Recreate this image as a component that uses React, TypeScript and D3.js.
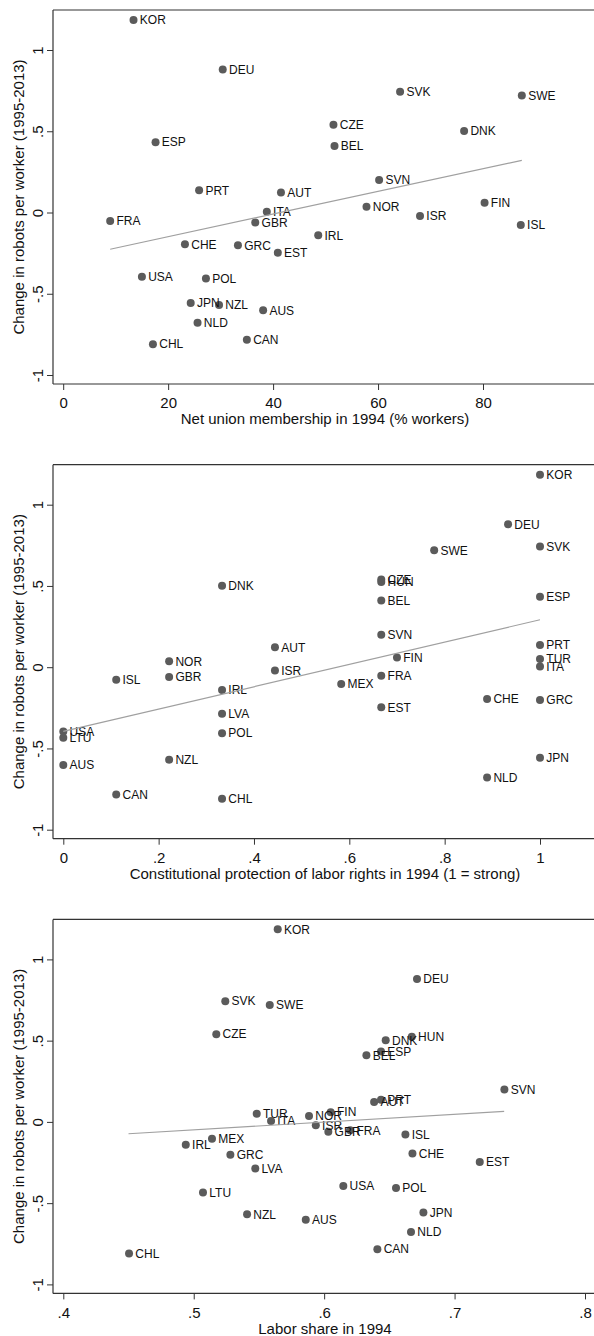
import React, { useEffect, useRef } from "react";
import * as d3 from "d3";

// countries and the shared y value (change in robots per worker, 1995-2013)
const countries = ["KOR", "DEU", "SVK", "SWE", "CZE", "HUN", "DNK", "ESP", "BEL", "SVN", "PRT", "AUT", "FIN", "TUR", "NOR", "ITA", "ISR", "FRA", "GBR", "ISL", "MEX", "IRL", "CHE", "GRC", "EST", "LVA", "USA", "POL", "LTU", "JPN", "NZL", "AUS", "NLD", "CAN", "CHL"];
const robotsChange = [1.185, 0.88, 0.743, 0.72, 0.54, 0.524, 0.502, 0.433, 0.41, 0.2, 0.137, 0.123, 0.06, 0.05, 0.036, 0.005, -0.021, -0.052, -0.061, -0.077, -0.103, -0.14, -0.195, -0.202, -0.247, -0.286, -0.395, -0.406, -0.434, -0.557, -0.569, -0.602, -0.678, -0.783, -0.81];

// x variables (null = not in that panel)
const unionMembership = [13.4, 30.4, 64.2, 87.4, 51.5, null, 76.4, 17.6, 51.7, 60.2, 25.9, 41.5, 80.3, null, 57.8, 38.8, 68.0, 8.95, 36.6, 87.2, null, 48.6, 23.2, 33.3, 40.9, null, 15.0, 27.2, null, 24.3, 29.7, 38.1, 25.6, 35.0, 17.1];
const laborRights = [1, 0.933, 1, 0.778, 0.667, 0.667, 0.333, 1, 0.667, 0.667, 1, 0.444, 0.7, 1, 0.222, 1, 0.444, 0.667, 0.222, 0.111, 0.583, 0.333, 0.889, 1, 0.667, 0.333, 0, 0.333, 0, 1, 0.222, 0, 0.889, 0.111, 0.333];
const laborShare = [0.5644, 0.6712, 0.5242, 0.5583, 0.5173, 0.6672, 0.6472, 0.6436, 0.6324, 0.7382, 0.6436, 0.6383, 0.605, 0.5483, 0.5884, 0.5593, 0.5936, 0.6199, 0.6032, 0.6623, 0.514, 0.4939, 0.6677, 0.5281, 0.7193, 0.5472, 0.6147, 0.6551, 0.5071, 0.6761, 0.5409, 0.5859, 0.6666, 0.6408, 0.4504];

// fitted lines, endpoints: [x0, y0, x1, y1]
const fitUnion = [8.95, -0.226, 87.4, 0.321];
const fitRights = [0, -0.395, 1, 0.292];
const fitShare = [0.45, -0.073, 0.738, 0.065];

const yTicks = [-1, -0.5, 0, 0.5, 1];
const unionTicks = [0, 20, 40, 60, 80];
const rightsTicks = [0, 0.2, 0.4, 0.6, 0.8, 1];
const shareTicks = [0.4, 0.5, 0.6, 0.7, 0.8];

const yTitle = "Change in robots per worker (1995-2013)";
const xTitles = [
    "Net union membership in 1994 (% workers)",
    "Constitutional protection of labor rights in 1994 (1 = strong)",
    "Labor share in 1994"
];

const FONT = "'Liberation Sans', Arial, Helvetica, sans-serif";

const fmt = (d) => String(+d.toFixed(4)).replace(/^(-?)0\./, "$1.");

const App = () => {
    const ref = useRef(null);

    useEffect(() => {
        const svg = d3.select(ref.current);
        svg.selectAll("*").remove();

        const left = 53;
        const right = 597;
        const panels = [
            { xs: unionMembership, ticks: unionTicks, fit: fitUnion, range: [63.2, 483] },
            { xs: laborRights, ticks: rightsTicks, fit: fitRights, range: [63.3, 540] },
            { xs: laborShare, ticks: shareTicks, fit: fitShare, range: [63.3, 585] }
        ];

        panels.forEach((p, i) => {
            const top = 10 + i * 454.7;
            const bottom = top + 374;
            const g = svg.append("g");

            const y = d3.scaleLinear().domain([-1, 1]).range([top + 365, top + 40]);
            const x = d3.scaleLinear()
                .domain([p.ticks[0], p.ticks[p.ticks.length - 1]])
                .range(p.range);

            // frame: top border + axis lines
            g.append("line")
                .attr("x1", left).attr("x2", right)
                .attr("y1", top).attr("y2", top)
                .attr("stroke", "#333").attr("stroke-width", 1.2);

            const yAx = g.append("g")
                .attr("transform", `translate(${left},0)`)
                .call(d3.axisLeft(y).tickValues(yTicks).tickSize(6).tickSizeOuter(0).tickFormat(fmt));
            yAx.select(".domain").remove();
            yAx.attr("font-size", 15).attr("font-family", FONT).attr("color", "#333");
            yAx.selectAll("text")
                .attr("x", null).attr("dy", null)
                .attr("fill", "#111")
                .attr("text-anchor", "middle")
                .attr("transform", "translate(-10.5,0) rotate(-90)");

            const xAx = g.append("g")
                .attr("transform", `translate(0,${bottom})`)
                .call(d3.axisBottom(x).tickValues(p.ticks).tickSize(6).tickSizeOuter(0).tickFormat(fmt));
            xAx.select(".domain").remove();
            xAx.attr("font-size", 15).attr("font-family", FONT).attr("color", "#333");
            xAx.selectAll("text").attr("y", 24.3).attr("dy", null).attr("fill", "#111");

            g.append("line")
                .attr("x1", left).attr("x2", left)
                .attr("y1", top).attr("y2", bottom)
                .attr("stroke", "#333").attr("stroke-width", 1.2);
            g.append("line")
                .attr("x1", left).attr("x2", right)
                .attr("y1", bottom).attr("y2", bottom)
                .attr("stroke", "#333").attr("stroke-width", 1.2);

            // titles
            g.append("text")
                .attr("x", 325).attr("y", bottom + 40.3)
                .attr("text-anchor", "middle")
                .attr("font-family", FONT).attr("font-size", 15).attr("fill", "#111")
                .text(xTitles[i]);
            g.append("text")
                .attr("transform", `translate(24,${(top + bottom) / 2}) rotate(-90)`)
                .attr("text-anchor", "middle")
                .attr("font-family", FONT).attr("font-size", 15).attr("fill", "#111")
                .text(yTitle);

            const data = countries
                .map((c, k) => ({ name: c, xv: p.xs[k], yv: robotsChange[k] }))
                .filter(d => d.xv !== null);

            g.selectAll("circle")
                .data(data).enter()
                .append("circle")
                .attr("cx", d => x(d.xv))
                .attr("cy", d => y(d.yv))
                .attr("r", 4)
                .attr("fill", "#5b5b5b");

            g.selectAll("text.lbl")
                .data(data).enter()
                .append("text")
                .attr("class", "lbl")
                .attr("x", d => x(d.xv) + 6.3)
                .attr("y", d => y(d.yv))
                .attr("dy", "0.36em")
                .attr("font-family", FONT).attr("font-size", 12).attr("fill", "#111")
                .text(d => d.name);

            // fitted line
            g.append("line")
                .attr("x1", x(p.fit[0])).attr("y1", y(p.fit[1]))
                .attr("x2", x(p.fit[2])).attr("y2", y(p.fit[3]))
                .attr("stroke", "#a0a0a0").attr("stroke-width", 1.2);
        });
    }, []);

    return (
        <div>
            <style>{"body{margin:0;background:#fff}"}</style>
            <svg ref={ref} width={594} height={1336} style={{ display: "block" }} />
        </div>
    );
};

export default App;
